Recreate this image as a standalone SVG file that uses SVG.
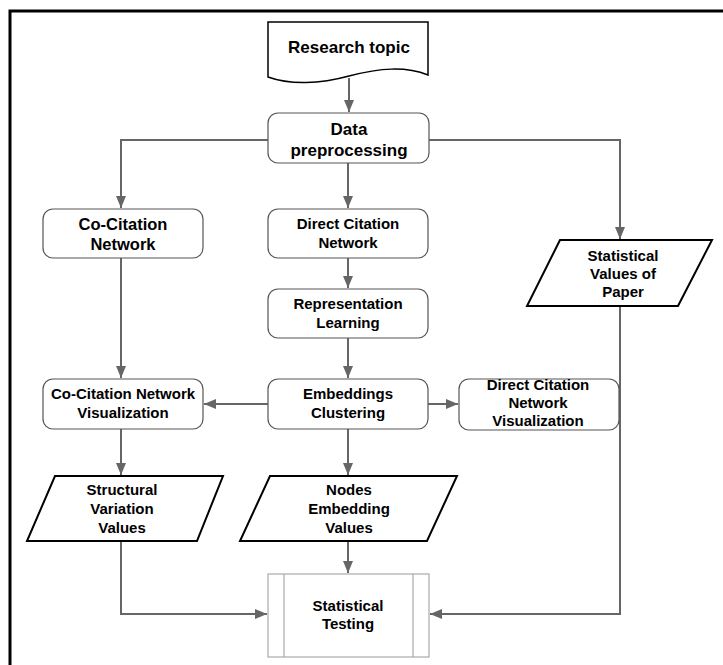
<svg xmlns="http://www.w3.org/2000/svg" width="723" height="665" viewBox="0 0 723 665">
<style>
.t{font-family:"Liberation Sans",Arial,sans-serif;font-weight:bold;fill:#000;text-anchor:middle;font-size:15px}
.rr{fill:#fff;stroke:#555;stroke-width:1.2}
.pg{fill:#fff;stroke:#000;stroke-width:2}
.c{fill:none;stroke:#666;stroke-width:2}
</style>
<defs>
<marker id="a" viewBox="0 0 12 10" refX="12" refY="5" markerWidth="12" markerHeight="11" markerUnits="userSpaceOnUse" orient="auto">
<path d="M0,0 L12,5 L0,10 Z" fill="#666"/>
</marker>
</defs>
<rect width="723" height="665" fill="#fff"/>
<path d="M10,665 V11 H723" fill="none" stroke="#000" stroke-width="3"/>
<g id="connectors">
<path class="c" d="M349,78 V112" marker-end="url(#a)"/>
<path class="c" d="M268,140 H121 V208" marker-end="url(#a)"/>
<path class="c" d="M429,140 H620 V239" marker-end="url(#a)"/>
<path class="c" d="M348,163 V208" marker-end="url(#a)"/>
<path class="c" d="M348,258 V288" marker-end="url(#a)"/>
<path class="c" d="M348,338 V378" marker-end="url(#a)"/>
<path class="c" d="M121,258 V378" marker-end="url(#a)"/>
<path class="c" d="M268,404 H204" marker-end="url(#a)"/>
<path class="c" d="M428,404 H458" marker-end="url(#a)"/>
<path class="c" d="M121,429 V475" marker-end="url(#a)"/>
<path class="c" d="M348,429 V475" marker-end="url(#a)"/>
<path class="c" d="M121,541 V614 H267" marker-end="url(#a)"/>
<path class="c" d="M348,541 V573" marker-end="url(#a)"/>
<path class="c" d="M620,306 V614 H430" marker-end="url(#a)"/>
</g>
<g id="research-topic">
<path d="M268,22 H428 V75 C405,66 380,68 349,76 C320,84 290,85 268,77 Z" fill="#fff" stroke="#000" stroke-width="1.5"/>
<text class="t" x="349" y="53" style="font-size:17px">Research topic</text>
</g>
<g id="data-preprocessing">
<rect class="rr" x="268" y="113" width="161" height="50" rx="10"/>
<text class="t" x="349" y="135" style="font-size:17px">Data</text>
<text class="t" x="349" y="156" style="font-size:17px">preprocessing</text>
</g>
<g id="co-citation-network">
<rect class="rr" x="43" y="209" width="160" height="49" rx="10"/>
<text class="t" x="123" y="230" style="font-size:16.5px">Co-Citation</text>
<text class="t" x="123" y="250" style="font-size:16.5px">Network</text>
</g>
<g id="direct-citation-network">
<rect class="rr" x="268" y="209" width="160" height="49" rx="10"/>
<text class="t" x="348" y="229">Direct Citation</text>
<text class="t" x="348" y="248">Network</text>
</g>
<g id="representation-learning">
<rect class="rr" x="268" y="289" width="160" height="49" rx="10"/>
<text class="t" x="348" y="309">Representation</text>
<text class="t" x="348" y="328">Learning</text>
</g>
<g id="statistical-values-paper">
<path class="pg" d="M560,240 H712 L678,306 H527 Z"/>
<text class="t" x="623" y="261">Statistical</text>
<text class="t" x="623" y="279">Values of</text>
<text class="t" x="623" y="297">Paper</text>
</g>
<g id="co-citation-visualization">
<rect class="rr" x="43" y="379" width="160" height="50" rx="10"/>
<text class="t" x="123" y="399">Co-Citation Network</text>
<text class="t" x="123" y="418">Visualization</text>
</g>
<g id="embeddings-clustering">
<rect class="rr" x="268" y="379" width="160" height="50" rx="10"/>
<text class="t" x="348" y="399">Embeddings</text>
<text class="t" x="348" y="418">Clustering</text>
</g>
<g id="direct-citation-visualization">
<rect class="rr" x="459" y="379" width="160" height="51" rx="10"/>
<text class="t" x="538" y="390">Direct Citation</text>
<text class="t" x="538" y="408">Network</text>
<text class="t" x="538" y="426">Visualization</text>
</g>
<g id="structural-variation-values">
<path class="pg" d="M55,476 H223 L197,541 H27 Z"/>
<text class="t" x="122" y="495">Structural</text>
<text class="t" x="122" y="514">Variation</text>
<text class="t" x="122" y="533">Values</text>
</g>
<g id="nodes-embedding-values">
<path class="pg" d="M270,476 H457 L427,541 H240 Z"/>
<text class="t" x="349" y="495">Nodes</text>
<text class="t" x="349" y="514">Embedding</text>
<text class="t" x="349" y="533">Values</text>
</g>
<g id="statistical-testing">
<rect x="268" y="574" width="161" height="83" fill="#fff" stroke="#aaa" stroke-width="1.2"/>
<path d="M284,574 V657 M413,574 V657" stroke="#aaa" stroke-width="1.2"/>
<text class="t" x="348" y="611">Statistical</text>
<text class="t" x="348" y="629">Testing</text>
</g>
</svg>
